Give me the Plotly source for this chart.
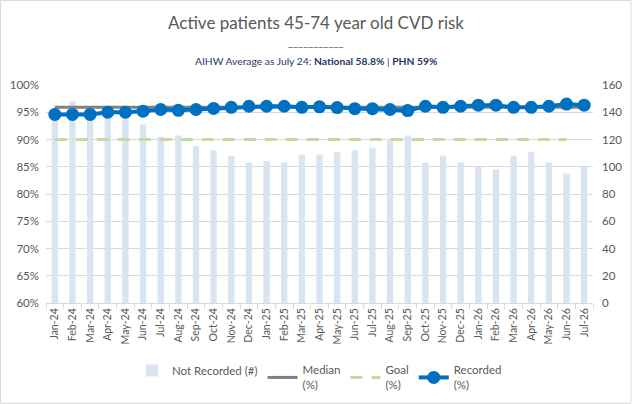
import plotly.graph_objects as go

months = ["Jan-24","Feb-24","Mar-24","Apr-24","May-24","Jun-24","Jul-24","Aug-24","Sep-24","Oct-24",
          "Nov-24","Dec-24","Jan-25","Feb-25","Mar-25","Apr-25","May-25","Jun-25","Jul-25","Aug-25",
          "Sep-25","Oct-25","Nov-25","Dec-25","Jan-26","Feb-26","Mar-26","Apr-26","May-26","Jun-26","Jul-26"]

not_recorded = [142, 148, 143, 144, 144, 131, 122, 123, 115, 112,
                108, 103, 104, 103, 109, 109, 111, 112, 114, 120,
                123, 103, 108, 103, 100, 98, 108, 111, 103, 95, 100]

recorded = [0.946, 0.946, 0.946, 0.950, 0.950, 0.952, 0.955, 0.9535, 0.955, 0.957,
            0.959, 0.961, 0.961, 0.961, 0.959, 0.960, 0.9585, 0.9565, 0.9565, 0.955,
            0.953, 0.961, 0.959, 0.961, 0.963, 0.963, 0.959, 0.959, 0.961, 0.965, 0.963]

median_val = [0.959] * 31
goal_val = [0.90] * 30 + [None]

FONT = "Lato"
GREY = "#595959"

fig = go.Figure()
fig.add_trace(go.Bar(x=months, y=not_recorded, name="Not Recorded (#)", yaxis="y",
                     marker=dict(color="#DAE3F0", line=dict(width=0)), width=0.36))
fig.add_trace(go.Scatter(x=months, y=median_val, name="Median<br>(%)", yaxis="y2", mode="lines",
                         line=dict(color="#808080", width=3)))
fig.add_trace(go.Scatter(x=months, y=goal_val, name="Goal<br>(%)", yaxis="y2", mode="lines",
                         line=dict(color="#C5D9A0", width=3, dash="12px,9px")))
fig.add_trace(go.Scatter(x=months, y=recorded, name="Recorded<br>(%)", yaxis="y2", mode="lines+markers",
                         line=dict(color="#0070C0", width=4), marker=dict(size=13, color="#0070C0")))

W, H = 632, 404
L, R, T, B = 46, 39, 85, 101
pw, ph = W - L - R, H - T - B

fig.update_layout(
    width=W, height=H,
    margin=dict(l=L, r=R, t=T, b=B, autoexpand=False),
    paper_bgcolor="white", plot_bgcolor="white",
    font=dict(family=FONT, size=11, color=GREY),
    showlegend=True,
    hovermode=False,
    xaxis=dict(type="category", tickangle=-90, tickfont=dict(size=10.5, color=GREY),
               showgrid=False, showline=True, linecolor="#D9D9D9", linewidth=1,
               ticks="outside", ticklen=5, tickcolor="#D9D9D9", tickson="boundaries",
               range=[-0.5, 30.5], automargin=False),
    yaxis=dict(side="right", range=[0, 160], dtick=20, showgrid=True, gridcolor="#D9D9D9",
               gridwidth=1, zeroline=False, tickfont=dict(size=11.5, color=GREY), ticks="",
               ticklabelstandoff=8, automargin=False),
    yaxis2=dict(side="left", overlaying="y", range=[0.6, 1.0], dtick=0.05, tickformat=".0%",
                showgrid=False, zeroline=False, tickfont=dict(size=11.5, color=GREY), ticks="",
                ticklabelstandoff=6, automargin=False),
    legend=dict(orientation="h", x=0.5, xanchor="center", y=-0.243, yanchor="top",
                font=dict(size=11.5, color=GREY), itemwidth=30, tracegroupgap=0,
                bgcolor="rgba(0,0,0,0)"),
    shapes=[dict(type="rect", xref="paper", yref="paper",
                 x0=-L / pw + 0.001, x1=1 + R / pw - 0.002, y0=-B / ph + 0.003, y1=1 + T / ph - 0.002,
                 line=dict(color="#D9D9D9", width=1), fillcolor="rgba(0,0,0,0)", layer="below")],
    annotations=[
        dict(text="Active patients 45-74 year old CVD risk", xref="paper", yref="paper",
             x=(316 - L) / pw, y=1 + (T - 22) / ph, xanchor="center", yanchor="middle",
             showarrow=False, font=dict(size=17, color=GREY, family=FONT)),
        dict(text="___________", xref="paper", yref="paper",
             x=(316 - L) / pw, y=1 + (T - 42) / ph, xanchor="center", yanchor="middle",
             showarrow=False, font=dict(size=11, color=GREY, family=FONT)),
        dict(text="AIHW Average as July 24: <b>National 58.8%</b> | <b>PHN 59%</b>", xref="paper", yref="paper",
             x=(316 - L) / pw, y=1 + (T - 61) / ph, xanchor="center", yanchor="middle",
             showarrow=False, font=dict(size=10.3, color="#1F3864", family=FONT)),
    ],
)

fig.write_html("out.html", config={"displayModeBar": False, "staticPlot": True},
               post_script="document.body.style.margin='0';document.body.style.overflow='hidden';")
